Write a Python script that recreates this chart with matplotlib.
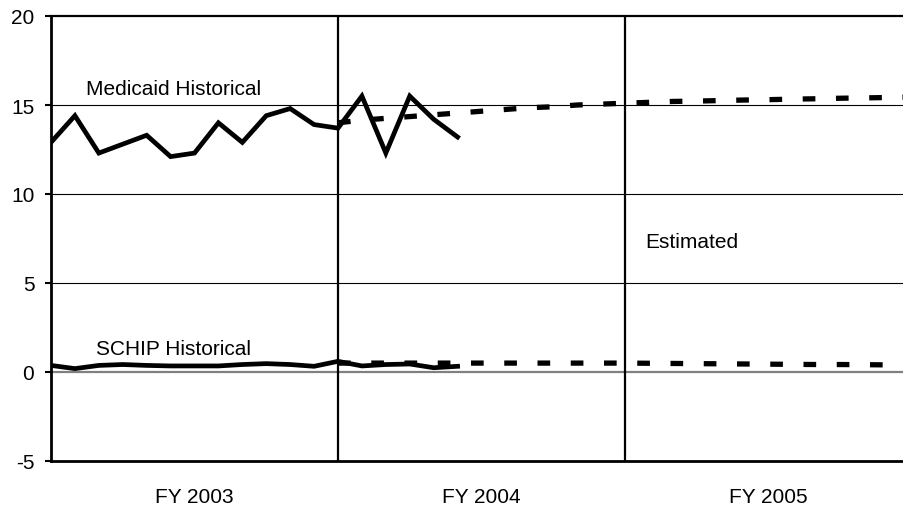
import matplotlib
matplotlib.use("Agg")
import matplotlib.pyplot as plt
import numpy as np

plt.rcParams['font.family'] = ['Liberation Sans', 'DejaVu Sans']

# Monthly index: 0 = first month of FY 2003, 36 = end of FY 2005
medicaid_hist = [12.9, 14.4, 12.3, 12.8, 13.3, 12.1, 12.3, 14.0, 12.9, 14.4, 14.8, 13.9,
                 13.7, 15.5, 12.3, 15.5, 14.2, 13.2]
schip_hist = [0.37, 0.19, 0.37, 0.42, 0.37, 0.34, 0.34, 0.34, 0.42, 0.47, 0.42, 0.32,
              0.60, 0.34, 0.42, 0.45, 0.24, 0.32]
medicaid_est = [14.0, 14.15, 14.25, 14.35, 14.45, 14.55, 14.65, 14.75, 14.85, 14.9, 15.0, 15.05,
                15.1, 15.15, 15.2, 15.22, 15.25, 15.28, 15.3, 15.33, 15.35, 15.38, 15.4, 15.42, 15.45]
schip_est = [0.5, 0.5, 0.5, 0.5, 0.5, 0.5, 0.5, 0.5, 0.5, 0.5, 0.5, 0.5,
             0.5, 0.49, 0.48, 0.47, 0.46, 0.45, 0.44, 0.43, 0.42, 0.42, 0.41, 0.4, 0.4]
est_start = 12
fy_labels = ["FY 2003", "FY 2004", "FY 2005"]
months_per_fy = 12
y_ticks = [-5, 0, 5, 10, 15, 20]

fig = plt.figure(figsize=(9.04, 5.10), dpi=100)
W, H = 904, 510
ax = fig.add_axes([51 / W, 1 - 462 / H, (912 - 51) / W, (462 - 17) / H])

x_hist = np.arange(len(medicaid_hist))
x_est = np.arange(est_start, est_start + len(medicaid_est))

ax.set_xlim(0, months_per_fy * len(fy_labels))
ax.set_ylim(-5, 20)

# gridlines
for y in [5, 10, 15]:
    ax.axhline(y, color='black', lw=0.8, zorder=1)
ax.axhline(0, color='#808080', lw=1.6, zorder=1)
for k in range(1, len(fy_labels)):
    ax.axvline(k * months_per_fy, color='black', lw=1.6, zorder=1)

dash = (0, (2.4, 3.9))
ax.plot(x_est, medicaid_est, color='black', lw=3.8, linestyle=dash, dash_capstyle='butt', zorder=3)
ax.plot(x_est, schip_est, color='black', lw=3.8, linestyle=dash, dash_capstyle='butt', zorder=3)
ax.plot(x_hist, medicaid_hist, color='black', lw=3.4, solid_joinstyle='miter', zorder=4)
ax.plot(x_hist, schip_hist, color='black', lw=3.4, solid_joinstyle='round', zorder=4)

ax.text(1.45, 15.9, "Medicaid Historical", fontsize=15, va='center', ha='left')
ax.text(1.9, 1.3, "SCHIP Historical", fontsize=15, va='center', ha='left')
ax.text(24.85, 7.35, "Estimated", fontsize=15, va='center', ha='left')

ax.set_yticks(y_ticks)
ax.set_yticklabels([str(v) for v in y_ticks], fontsize=15)
ax.tick_params(axis='y', length=4, width=1.5, pad=8, direction='out')

ax.set_xticks([months_per_fy * (k + 0.5) for k in range(len(fy_labels))])
ax.set_xticklabels(fy_labels, fontsize=15)
ax.tick_params(axis='x', length=0, pad=19)

for s in ['left', 'bottom']:
    ax.spines[s].set_linewidth(2.0)
ax.spines['top'].set_linewidth(1.6)
ax.spines['right'].set_visible(False)

fig.savefig("out.png", dpi=100)
